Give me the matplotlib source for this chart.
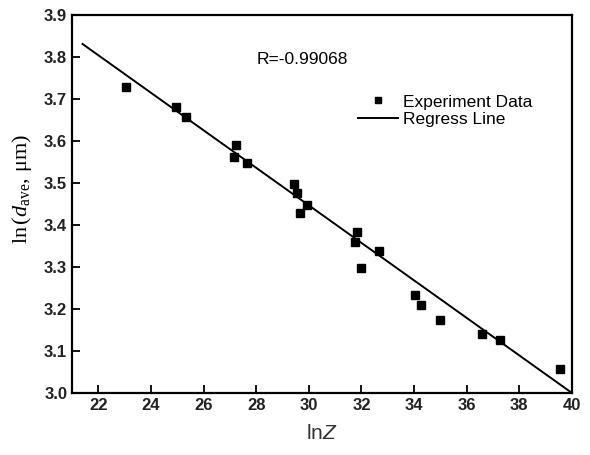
import numpy as np
import matplotlib.pyplot as plt

# data
lnZ = [23.05, 24.95, 25.35, 27.25, 27.15, 27.65, 29.45, 29.55, 29.68, 29.92,
       31.84, 31.74, 31.98, 32.66, 34.03, 34.28, 34.97, 36.59, 37.25, 39.56]
ln_d = [3.728, 3.682, 3.658, 3.590, 3.561, 3.548, 3.498, 3.477, 3.429, 3.448,
        3.383, 3.360, 3.298, 3.338, 3.233, 3.210, 3.173, 3.140, 3.126, 3.057]
line_x = [21.4, 40.0]
line_y = [3.831, 3.0]
r_text = "R=-0.99068"

plt.rcParams['font.family'] = ['Liberation Sans', 'DejaVu Sans']
# serif roman/italic for the y label, sans italic (via \mathcal) for Z
plt.rcParams['mathtext.fontset'] = 'custom'
plt.rcParams['mathtext.rm'] = 'Liberation Serif'
plt.rcParams['mathtext.it'] = 'Liberation Serif:italic'
plt.rcParams['mathtext.sf'] = 'Liberation Sans'
plt.rcParams['mathtext.cal'] = 'Liberation Sans:italic'

fig = plt.figure(figsize=(5.9, 4.55), dpi=100)
ax = fig.add_axes([72 / 590, 1 - 393 / 455, 500 / 590, 378 / 455])

ax.plot(lnZ, ln_d, 's', color='k', markersize=5.5, label='Experiment Data')
ax.plot(line_x, line_y, '-', color='k', linewidth=1.4, label='Regress Line')

ax.set_xlim(21, 40)
ax.set_ylim(3.0, 3.9)
ax.set_xticks(np.arange(22, 41, 2))
ax.set_yticks(np.arange(3.0, 3.91, 0.1))
ax.set_yticklabels([f"{v:.1f}" for v in np.arange(3.0, 3.91, 0.1)])

ax.tick_params(direction='in', length=6, width=1.3, labelsize=12, top=False, right=False)
for lab in ax.get_xticklabels() + ax.get_yticklabels():
    lab.set_fontweight('bold')
    lab.set_color('#222222')
for sp in ax.spines.values():
    sp.set_linewidth(1.6)

ax.set_xlabel(r'ln$\mathcal{Z}$', fontsize=15, color='#333333', labelpad=8)
ax.set_ylabel(r'$\mathrm{ln\,(}\mathit{d}_{\mathrm{ave}}\mathrm{,\,\mu m)}$',
              fontsize=16)
ax.yaxis.set_label_coords(-0.075, 0.54)

ax.text(28.0, 3.793, r_text, fontsize=12.5, va='center', ha='left')

ax.legend(loc='upper left', bbox_to_anchor=(0.572, 0.79), frameon=False,
          fontsize=12.5, handlelength=2.3, handletextpad=0.3, labelspacing=0.15,
          markerscale=0.7, borderpad=0, borderaxespad=0)

fig.savefig('out.png', dpi=100)
